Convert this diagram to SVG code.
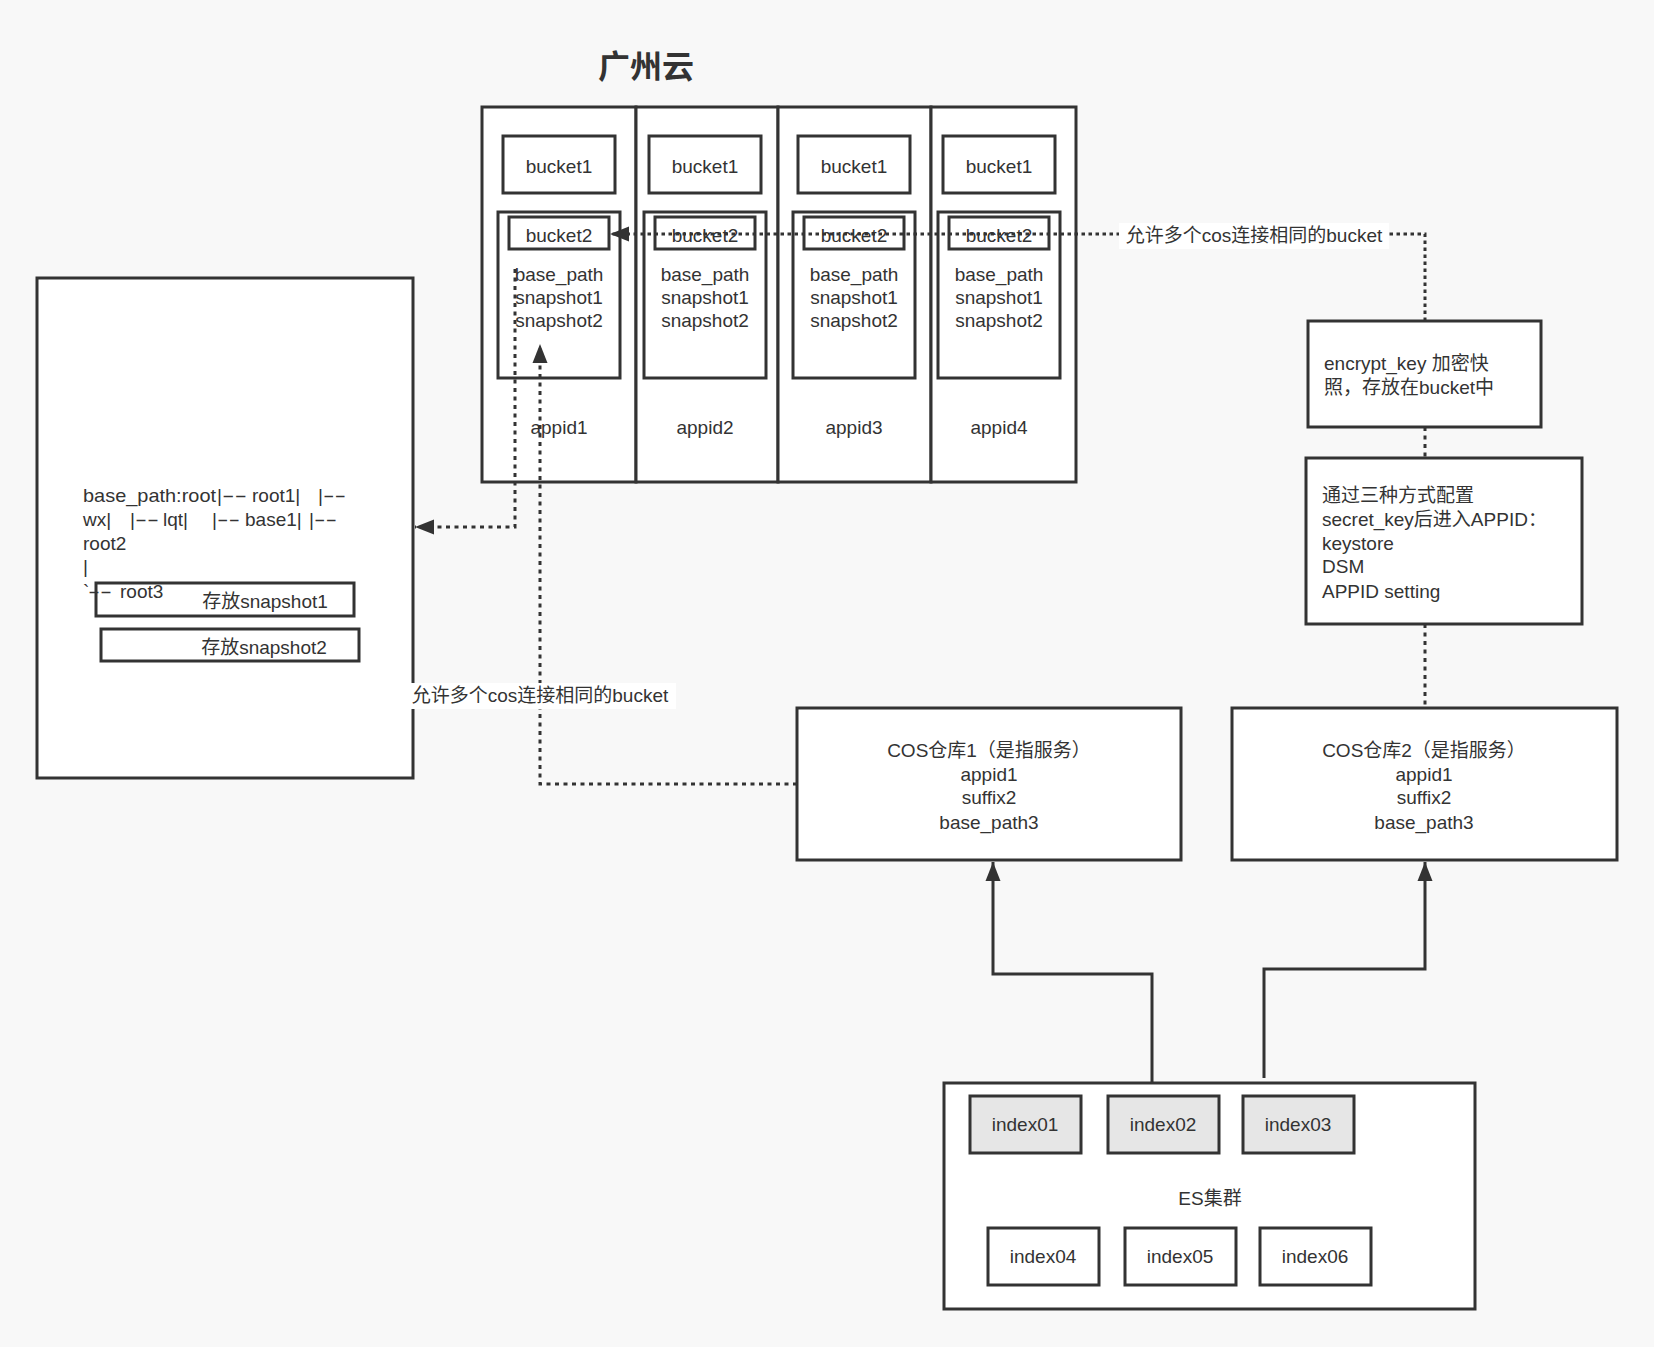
<svg xmlns="http://www.w3.org/2000/svg" width="1654" height="1347" viewBox="0 0 1654 1347">
<defs>
<style>
.box{fill:#fff;stroke:#333;stroke-width:3}
.nofill{fill:none;stroke:#333;stroke-width:3}
.gray{fill:#e6e6e6;stroke:#333;stroke-width:3}
.t{font-family:"Liberation Sans","Noto Sans CJK SC",sans-serif;font-size:19px;fill:#333}
.pre{white-space:pre}
.c{text-anchor:middle}
.title{font-family:"Liberation Sans","Noto Sans CJK SC",sans-serif;font-size:32px;font-weight:bold;fill:#333;text-anchor:middle}
.dot{fill:none;stroke:#333;stroke-width:3;stroke-dasharray:4 4.5}
.dot2{fill:none;stroke:#333;stroke-width:3;stroke-dasharray:3.5 3.5}
.solid{fill:none;stroke:#333;stroke-width:3}
.lbl{fill:#fff}
</style>
<marker id="arr" markerUnits="userSpaceOnUse" markerWidth="20" markerHeight="18" refX="19" refY="8" orient="auto">
<path d="M0,0.5 L19,8 L0,15.5 Z" fill="#333"/>
</marker>
</defs>
<rect width="1654" height="1347" fill="#f8f8f8"/>
<text class="title" x="646" y="78">广州云</text>

<g id="appid1">
<rect class="box" x="482" y="107" width="154" height="375"/>
<rect class="box" x="503" y="136" width="112" height="57"/>
<text class="t c" x="559" y="173">bucket1</text>
<rect class="box" x="498" y="212" width="122" height="166"/>
<rect class="box" x="509" y="217" width="100" height="32"/>
<text class="t c" x="559" y="242">bucket2</text>
<text class="t c" x="559" y="281">base_path</text>
<text class="t c" x="559" y="304">snapshot1</text>
<text class="t c" x="559" y="327">snapshot2</text>
<text class="t c" x="559" y="434">appid1</text>
</g>
<g id="appid2">
<rect class="box" x="636" y="107" width="142" height="375"/>
<rect class="box" x="649" y="136" width="112" height="57"/>
<text class="t c" x="705" y="173">bucket1</text>
<rect class="box" x="644" y="212" width="122" height="166"/>
<rect class="box" x="655" y="217" width="100" height="32"/>
<text class="t c" x="705" y="242">bucket2</text>
<text class="t c" x="705" y="281">base_path</text>
<text class="t c" x="705" y="304">snapshot1</text>
<text class="t c" x="705" y="327">snapshot2</text>
<text class="t c" x="705" y="434">appid2</text>
</g>
<g id="appid3">
<rect class="box" x="778" y="107" width="153" height="375"/>
<rect class="box" x="798" y="136" width="112" height="57"/>
<text class="t c" x="854" y="173">bucket1</text>
<rect class="box" x="793" y="212" width="122" height="166"/>
<rect class="box" x="804" y="217" width="100" height="32"/>
<text class="t c" x="854" y="242">bucket2</text>
<text class="t c" x="854" y="281">base_path</text>
<text class="t c" x="854" y="304">snapshot1</text>
<text class="t c" x="854" y="327">snapshot2</text>
<text class="t c" x="854" y="434">appid3</text>
</g>
<g id="appid4">
<rect class="box" x="931" y="107" width="145" height="375"/>
<rect class="box" x="943" y="136" width="112" height="57"/>
<text class="t c" x="999" y="173">bucket1</text>
<rect class="box" x="938" y="212" width="122" height="166"/>
<rect class="box" x="949" y="217" width="100" height="32"/>
<text class="t c" x="999" y="242">bucket2</text>
<text class="t c" x="999" y="281">base_path</text>
<text class="t c" x="999" y="304">snapshot1</text>
<text class="t c" x="999" y="327">snapshot2</text>
<text class="t c" x="999" y="434">appid4</text>
</g>

<g id="basepath">
<rect class="box" x="37" y="278" width="376" height="500"/>
<text class="t pre" y="502"><tspan x="83" textLength="133" lengthAdjust="spacingAndGlyphs">base_path:root</tspan><tspan x="217">|</tspan><tspan x="222" textLength="25" lengthAdjust="spacingAndGlyphs">--</tspan> <tspan x="252">root1|   </tspan><tspan x="318">|</tspan><tspan x="323" textLength="23" lengthAdjust="spacingAndGlyphs">--</tspan></text>
<text class="t pre" y="526"><tspan x="83">wx|   </tspan><tspan x="130">|</tspan><tspan x="135" textLength="24" lengthAdjust="spacingAndGlyphs">--</tspan> <tspan x="163">lqt|   </tspan><tspan x="212">|</tspan><tspan x="217" textLength="23" lengthAdjust="spacingAndGlyphs">--</tspan> <tspan x="245">base1|  </tspan><tspan x="309">|</tspan><tspan x="314" textLength="23" lengthAdjust="spacingAndGlyphs">--</tspan></text>
<text class="t pre" x="83" y="550">root2</text>
<text class="t pre" x="83" y="573">|</text>
<text class="t pre" y="598"><tspan x="83">`</tspan><tspan x="88" textLength="24" lengthAdjust="spacingAndGlyphs">--</tspan> <tspan x="120">root3</tspan></text>
<rect class="nofill" x="96" y="583" width="258" height="33"/>
<text class="t c" x="265" y="608">存放snapshot1</text>
<rect class="nofill" x="101" y="629" width="258" height="32"/>
<text class="t c" x="264" y="654">存放snapshot2</text>
</g>

<g id="encrypt">
<rect class="box" x="1308" y="321" width="233" height="106"/>
<text class="t" x="1324" y="370">encrypt_key 加密快</text>
<text class="t" x="1324" y="394">照，存放在bucket中</text>
</g>
<g id="secret">
<rect class="box" x="1306" y="458" width="276" height="166"/>
<text class="t" x="1322" y="502">通过三种方式配置</text>
<text class="t" x="1322" y="526">secret_key后进入APPID：</text>
<text class="t" x="1322" y="550">keystore</text>
<text class="t" x="1322" y="573">DSM</text>
<text class="t" x="1322" y="598">APPID setting</text>
</g>
<g id="cos1">
<rect class="box" x="797" y="708" width="384" height="152"/>
<text class="t c" x="989" y="757">COS仓库1（是指服务）</text>
<text class="t c" x="989" y="781">appid1</text>
<text class="t c" x="989" y="804">suffix2</text>
<text class="t c" x="989" y="829">base_path3</text>
</g>
<g id="cos2">
<rect class="box" x="1232" y="708" width="385" height="152"/>
<text class="t c" x="1424" y="757">COS仓库2（是指服务）</text>
<text class="t c" x="1424" y="781">appid1</text>
<text class="t c" x="1424" y="804">suffix2</text>
<text class="t c" x="1424" y="829">base_path3</text>
</g>
<g id="es">
<rect class="box" x="944" y="1083" width="531" height="226"/>
<rect class="gray" x="970" y="1096" width="111" height="57"/>
<text class="t c" x="1025" y="1131">index01</text>
<rect class="gray" x="1108" y="1096" width="111" height="57"/>
<text class="t c" x="1163" y="1131">index02</text>
<rect class="gray" x="1243" y="1096" width="111" height="57"/>
<text class="t c" x="1298" y="1131">index03</text>
<text class="t c" x="1210" y="1205">ES集群</text>
<rect class="box" x="988" y="1228" width="111" height="57"/>
<text class="t c" x="1043" y="1263">index04</text>
<rect class="box" x="1125" y="1228" width="111" height="57"/>
<text class="t c" x="1180" y="1263">index05</text>
<rect class="box" x="1260" y="1228" width="111" height="57"/>
<text class="t c" x="1315" y="1263">index06</text>
</g>

<g id="connectors">
<path class="dot2" d="M1425,321 V234 H610" marker-end="url(#arr)"/>
<rect class="lbl" x="1119" y="223" width="270" height="26"/>
<text class="t c" x="1254" y="242">允许多个cos连接相同的bucket</text>
<path class="dot" d="M515,269 V527 H415" marker-end="url(#arr)"/>
<path class="dot" d="M797,784 H540 V344" marker-end="url(#arr)"/>
<rect class="lbl" x="406" y="683" width="270" height="26"/>
<text class="t c" x="540" y="702">允许多个cos连接相同的bucket</text>
<path class="dot" d="M1425,427 V458"/>
<path class="dot" d="M1425,624 V708"/>
<path class="solid" d="M1152,1083 V974 H993 V862" marker-end="url(#arr)"/>
<path class="solid" d="M1264,1078 V969 H1425 V862" marker-end="url(#arr)"/>
</g>
</svg>
